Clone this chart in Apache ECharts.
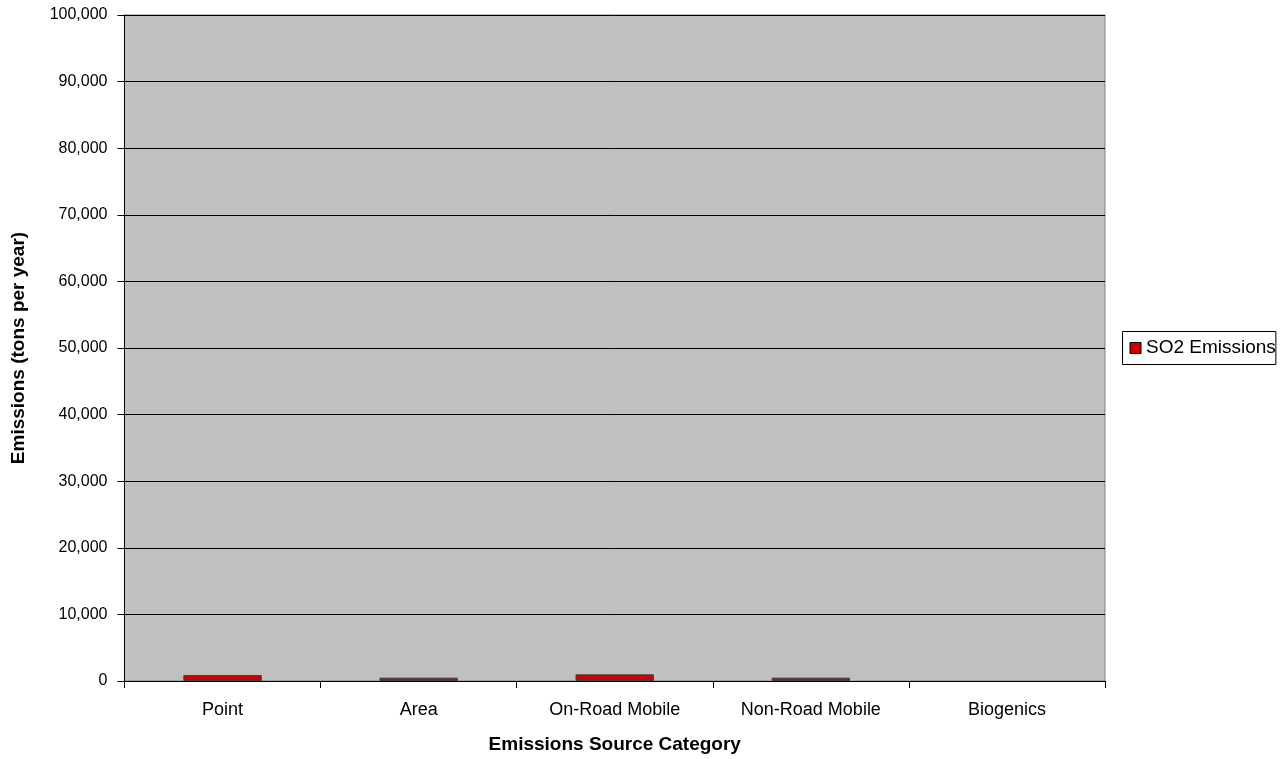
<!DOCTYPE html>
<html>
<head>
<meta charset="utf-8">
<script src="https://cdn.jsdelivr.net/npm/echarts@6/dist/echarts.min.js"></script>
<style>
  html, body { margin: 0; padding: 0; background: #ffffff; }
  #chart { width: 1287px; height: 759px; }
</style>
</head>
<body>
<div id="chart"></div>
<script>
// Emissions by source category (tons per year)
const categories = ['Point', 'Area', 'On-Road Mobile', 'Non-Road Mobile', 'Biogenics'];
const so2Emissions = [900, 500, 1000, 500, 0];
const seriesName = 'SO2 Emissions';

const chart = echarts.init(document.getElementById('chart'));
const font = 'Liberation Sans, Arial, sans-serif';

// zero-valued bars get no outline so they leave no line on the axis
const barData = so2Emissions.map(v => (v === 0 ? { value: v, itemStyle: { borderWidth: 0 } } : v));

chart.setOption({
  animation: false,
  backgroundColor: '#ffffff',
  grid: {
    left: 124.5,
    right: 182,
    top: 15,
    bottom: 77.5,
    show: true,
    backgroundColor: '#c0c0c0',
    borderColor: '#808080',
    borderWidth: 1
  },
  legend: {
    data: [seriesName],
    left: 1122.5,
    top: 331.5,
    orient: 'vertical',
    padding: [7, 0, 7, 7],
    itemWidth: 11,
    itemHeight: 11,
    backgroundColor: '#ffffff',
    borderColor: '#000000',
    borderWidth: 1,
    borderRadius: 0,
    icon: 'rect',
    itemStyle: { borderColor: '#000000', borderWidth: 1 },
    textStyle: {
      fontFamily: font,
      fontSize: 19,
      color: '#000000',
      width: 131,
      overflow: 'truncate',
      ellipsis: ''
    }
  },
  xAxis: {
    type: 'category',
    data: categories,
    name: 'Emissions Source Category',
    nameLocation: 'middle',
    nameGap: 54,
    nameTextStyle: { fontFamily: font, fontSize: 19, fontWeight: 'bold', color: '#000000' },
    axisLine: { lineStyle: { color: '#000000', width: 1 } },
    axisTick: { show: true, length: 7, inside: false, lineStyle: { color: '#000000' } },
    axisLabel: { fontFamily: font, fontSize: 18, color: '#000000', margin: 20 },
    splitLine: { show: false }
  },
  yAxis: {
    type: 'value',
    min: 0,
    max: 100000,
    interval: 10000,
    name: 'Emissions (tons per year)',
    nameLocation: 'middle',
    nameGap: 96,
    nameRotate: 90,
    nameTextStyle: { fontFamily: font, fontSize: 19, fontWeight: 'bold', color: '#000000' },
    axisLine: { show: true, lineStyle: { color: '#000000', width: 1 } },
    axisTick: { show: true, length: 7, inside: false, lineStyle: { color: '#000000' } },
    axisLabel: {
      fontFamily: font,
      fontSize: 16,
      color: '#000000',
      margin: 17,
      formatter: v => v.toLocaleString('en-US')
    },
    splitLine: { show: true, lineStyle: { color: '#000000', width: 1 } }
  },
  series: [{
    name: seriesName,
    type: 'bar',
    data: barData,
    barWidth: '40%',
    itemStyle: { color: '#cc0000', borderColor: '#404040', borderWidth: 1 }
  }]
});
</script>
</body>
</html>
